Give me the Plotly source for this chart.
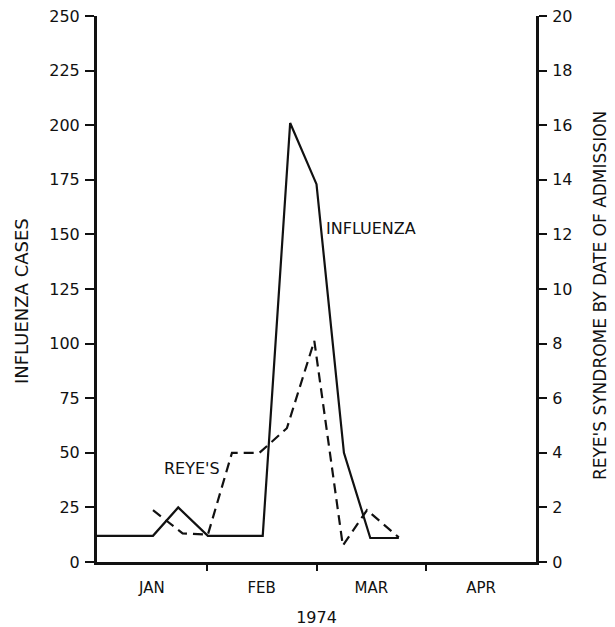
import plotly.graph_objects as go

# ---- data (x in months from 1 Jan 1974) ----
months = ["JAN", "FEB", "MAR", "APR"]
month_centers = [0.5, 1.5, 2.5, 3.5]
month_bounds = [1, 2, 3]

flu_x = [0.0, 0.51, 0.74, 1.01, 1.51, 1.76, 2.0, 2.25, 2.49, 2.75]
flu_cases = [12, 12, 25, 12, 12, 201, 173, 50, 11, 11]

reyes_x = [0.51, 0.78, 1.01, 1.23, 1.48, 1.73, 1.98, 2.24, 2.46, 2.75]
reyes_cases = [1.9, 1.05, 1.0, 4.0, 4.0, 4.9, 8.1, 0.6, 1.9, 0.9]

left_ticks = [0, 25, 50, 75, 100, 125, 150, 175, 200, 225, 250]
right_ticks = [0, 2, 4, 6, 8, 10, 12, 14, 16, 18, 20]

INK = "#111111"
FONT = "DejaVu Sans"

fig = go.Figure()
fig.add_trace(go.Scatter(x=flu_x, y=flu_cases, mode="lines",
                         line=dict(color=INK, width=2.2), yaxis="y",
                         showlegend=False, name="INFLUENZA"))
fig.add_trace(go.Scatter(x=reyes_x, y=reyes_cases, mode="lines",
                         line=dict(color=INK, width=2.2, dash="10px,6px"),
                         yaxis="y2", showlegend=False, name="REYE'S"))

fig.update_layout(
    width=615, height=627,
    margin=dict(l=97, r=79, t=16, b=65),
    paper_bgcolor="white", plot_bgcolor="white",
    font=dict(family=FONT, color=INK, size=15),
    xaxis=dict(range=[0, 4], showgrid=False, zeroline=False, automargin=False,
               showline=True, linecolor=INK, linewidth=3,
               tickmode="array", tickvals=month_centers, ticktext=months,
               ticks="", tickfont=dict(size=15), ticklabelstandoff=10,
               minor=dict(tickmode="array", tickvals=month_bounds,
                          ticks="outside", ticklen=6, tickwidth=2,
                          tickcolor=INK, showgrid=False),
               title=dict(text="1974", font=dict(size=16), standoff=20)),
    yaxis=dict(range=[0, 250], showgrid=False, zeroline=False, automargin=False,
               showline=True, linecolor=INK, linewidth=3,
               tickmode="array", tickvals=left_ticks,
               ticks="outside", ticklen=9, tickwidth=2, tickcolor=INK,
               tickfont=dict(size=16), ticklabelstandoff=2),
    yaxis2=dict(range=[0, 20], overlaying="y", side="right", automargin=False,
                showgrid=False, zeroline=False,
                showline=True, linecolor=INK, linewidth=3,
                tickmode="array", tickvals=right_ticks,
                ticks="outside", ticklen=8, tickwidth=2, tickcolor=INK,
                tickfont=dict(size=16), ticklabelstandoff=2),
    annotations=[
        dict(x=0, y=0.478, xref="paper", yref="paper", xshift=-76,
             text="INFLUENZA CASES", textangle=-90, showarrow=False,
             xanchor="center", yanchor="middle",
             font=dict(size=18, color=INK, family=FONT)),
        dict(x=1, y=0.487, xref="paper", yref="paper", xshift=64,
             text="REYE'S SYNDROME BY DATE OF ADMISSION", textangle=-90,
             showarrow=False, xanchor="center", yanchor="middle",
             font=dict(size=17, color=INK, family=FONT)),
        dict(x=2.07, y=152.5, xref="x", yref="y", text="INFLUENZA",
             showarrow=False, xanchor="left", yanchor="middle",
             font=dict(size=16, color=INK, family=FONT)),
        dict(x=0.59, y=42.6, xref="x", yref="y", text="REYE'S",
             showarrow=False, xanchor="left", yanchor="middle",
             font=dict(size=16, color=INK, family=FONT)),
    ],
)

fig.write_html("out.html")
